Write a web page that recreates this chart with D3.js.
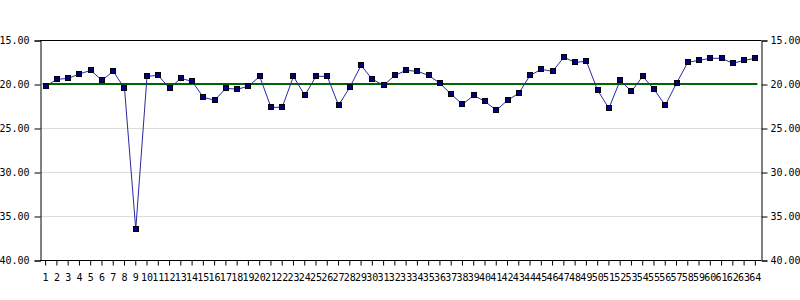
<!DOCTYPE html>
<html>
<head>
<meta charset="utf-8">
<script src="https://cdn.jsdelivr.net/npm/d3@7"></script>
<style>
  body { margin: 0; background: #fff; }
  svg text { font-family: "DejaVu Sans Mono", monospace; fill: #000; }
</style>
</head>
<body>
<svg id="chart" width="800" height="300"></svg>
<script>
// categories 1..64 and the measured values
var categories = d3.range(1, 65).map(String);
var values = [
  20.26, 19.47, 19.36, 18.86, 18.45, 19.58, 18.56, 20.49, 36.51, 19.13,
  19.02, 20.49, 19.36, 19.70, 21.50, 21.85, 20.49, 20.60, 20.26, 19.13,
  22.65, 22.65, 19.13, 21.30, 19.13, 19.13, 22.42, 20.38, 17.88, 19.47,
  20.15, 19.02, 18.45, 18.56, 19.02, 19.92, 21.17, 22.31, 21.30, 21.97,
  22.99, 21.85, 21.06, 19.02, 18.33, 18.56, 16.97, 17.54, 17.42, 20.72,
  22.76, 19.58, 20.83, 19.13, 20.60, 22.42, 19.92, 17.54, 17.31, 17.08,
  17.08, 17.65, 17.31, 17.08
];
var target = 20;
var yTicks = [15, 20, 25, 30, 35, 40];
var gridTicks = [25, 30, 35];

var plotLeft = 40, plotRight = 761, plotTop = 40, plotBottom = 260;

var svg = d3.select("#chart");

var x = d3.scaleBand().domain(categories).range([plotLeft, plotRight]);
var y = d3.scaleLinear().domain([15, 40]).range([plotTop, plotBottom]);
var cx = function(d, i) { return x(categories[i]) + x.bandwidth() / 2; };

// grid
svg.append("g").selectAll("line")
  .data(gridTicks)
  .enter().append("line")
  .attr("x1", plotLeft).attr("x2", plotRight)
  .attr("y1", function(d) { return Math.round(y(d)) + 0.5; })
  .attr("y2", function(d) { return Math.round(y(d)) + 0.5; })
  .attr("stroke", "#dcdcdc");

// top border
svg.append("line")
  .attr("x1", plotLeft).attr("x2", plotRight + 0.5)
  .attr("y1", plotTop + 0.5).attr("y2", plotTop + 0.5)
  .attr("stroke", "#000");

// axes
var fmt = d3.format(".2f");
var minor = d3.range(15, 41, 1);

function yAxis(gen, xpos, pad) {
  var g = svg.append("g").attr("transform", "translate(" + (xpos + 0.5) + ",0.5)");
  g.call(gen(y).tickValues(minor).tickSize(3).tickFormat(""));
  g.call(gen(y).tickValues(yTicks).tickSize(6).tickPadding(pad).tickFormat(fmt));
  g.selectAll("path").attr("stroke", "#000");
  g.selectAll("text").style("font-size", "10px");
  return g;
}
yAxis(d3.axisLeft, plotLeft, 5);
yAxis(d3.axisRight, plotRight, 3);

var gx = svg.append("g")
  .attr("transform", "translate(0," + (plotBottom + 0.5) + ")")
  .call(d3.axisBottom(x).tickSize(5).tickPadding(8).tickSizeOuter(0));
gx.select("path").attr("d", "M" + plotLeft + ",0H" + plotRight);
gx.selectAll("text").style("font-size", "10px");

// target line
svg.append("line")
  .attr("x1", cx(null, 0) - 3).attr("x2", cx(null, 63) + 2)
  .attr("y1", y(target)).attr("y2", y(target))
  .attr("stroke", "#006400").attr("stroke-width", 2);

// series
var line = d3.line()
  .x(function(d, i) { return cx(d, i); })
  .y(function(d) { return y(d); });

svg.append("path")
  .datum(values)
  .attr("d", line)
  .attr("fill", "none")
  .attr("stroke", "#2a2aa0")
  .attr("stroke-width", 1);

svg.append("g").selectAll("rect")
  .data(values)
  .enter().append("rect")
  .attr("x", function(d, i) { return Math.round(cx(d, i)) - 2.5; })
  .attr("y", function(d) { return Math.round(y(d)) - 2.5; })
  .attr("width", 5).attr("height", 5)
  .attr("fill", "#000080")
  .attr("stroke", "#000")
  .attr("stroke-width", 1);
</script>
</body>
</html>
